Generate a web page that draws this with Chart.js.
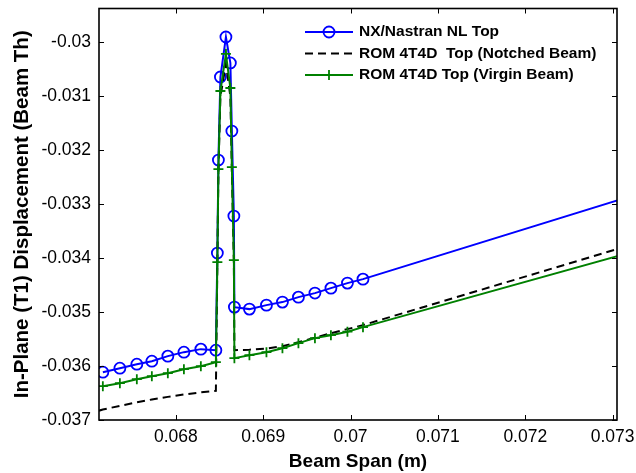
<!DOCTYPE html>
<html>
<head>
<meta charset="utf-8">
<title>In-plane displacement along beam span</title>
<script src="https://cdn.jsdelivr.net/npm/chart.js@4.4.1/dist/chart.umd.min.js"></script>
<style>
  html, body { margin: 0; padding: 0; background: #fff; }
  canvas { display: block; }
</style>
</head>
<body>
<canvas id="dispChart" width="636" height="473"></canvas>
<script>
// beam span positions of the FE nodes (m)
const spanNodes = [0.067164, 0.067359, 0.067553, 0.067725, 0.067908, 0.068092, 0.068286, 0.068458,
  0.068475, 0.068487, 0.068510, 0.068573, 0.068624, 0.068641, 0.068664, 0.068670,
  0.068842, 0.069037, 0.069220, 0.069403, 0.069592, 0.069775, 0.069964, 0.070142];

// NX/Nastran nonlinear, top fibre
const nastranTop = [-0.036113, -0.036039, -0.035965, -0.035909, -0.035816, -0.035742, -0.035686, -0.035705,
  -0.033905, -0.032180, -0.030640, -0.029898, -0.030380, -0.031642, -0.033219, -0.034907,
  -0.034944, -0.034870, -0.034814, -0.034722, -0.034647, -0.034555, -0.034462, -0.034388];

// ROM 4T4D, virgin beam
const romVirginTop = [-0.036373, -0.036317, -0.036243, -0.036187, -0.036132, -0.036058, -0.036002, -0.035928,
  -0.034072, -0.032347, -0.030900, -0.030213, -0.030844, -0.032310, -0.034035, -0.035853,
  -0.035798, -0.035742, -0.035668, -0.035575, -0.035482, -0.035427, -0.035362, -0.035278];

// ROM 4T4D, notched beam (no markers, starts at the left edge)
const notchedSpan = [0.06712].concat(spanNodes);
const romNotchedTop = [-0.036827,
  -0.036805, -0.036738, -0.036673, -0.036620, -0.036571, -0.036527, -0.036488, -0.036460,
  -0.034100, -0.032400, -0.031000, -0.030400, -0.031000, -0.032400, -0.034100, -0.035705,
  -0.035696, -0.035677, -0.035631, -0.035557, -0.035473, -0.035390, -0.035315, -0.035241];

// next node past the plotted span (cut off by the axes)
const farNode = 0.0735;
const farNastran = -0.032703;
const farVirgin = -0.033759;
const farNotched = -0.033614;

const xTicks = [0.068, 0.069, 0.070, 0.071, 0.072, 0.073];
const xTickLabels = ['0.068', '0.069', '0.07', '0.071', '0.072', '0.073'];
const yTicks = [-0.037, -0.036, -0.035, -0.034, -0.033, -0.032, -0.031, -0.030];
const yTickLabels = ['-0.037', '-0.036', '-0.035', '-0.034', '-0.033', '-0.032', '-0.031', '-0.03'];

const seriesNames = ['NX/Nastran NL Top', 'ROM 4T4D  Top (Notched Beam)', 'ROM 4T4D Top (Virgin Beam)'];

const BLUE = '#0000ff';
const GREEN = '#008000';
const FONT = '"Liberation Sans", Arial, Helvetica, sans-serif';

function toPoints(xs, ys, xEnd, yEnd) {
  const pts = xs.map((x, i) => ({x: x, y: ys[i]}));
  pts.push({x: xEnd, y: yEnd});
  return pts;
}

// box, inward ticks on all four sides and the legend
const axesBox = {
  id: 'axesBox',
  afterDatasetsDraw(chart) {
    const {ctx, chartArea: a, scales: {x, y}} = chart;
    ctx.save();
    ctx.strokeStyle = '#000';
    ctx.lineWidth = 1;
    ctx.beginPath();
    xTicks.forEach(v => {
      const px = Math.round(x.getPixelForValue(v)) + 0.5;
      ctx.moveTo(px, a.bottom); ctx.lineTo(px, a.bottom - 5);
      ctx.moveTo(px, a.top); ctx.lineTo(px, a.top + 5);
    });
    yTicks.forEach(v => {
      const py = Math.round(y.getPixelForValue(v)) + 0.5;
      ctx.moveTo(a.left, py); ctx.lineTo(a.left + 5, py);
      ctx.moveTo(a.right, py); ctx.lineTo(a.right - 5, py);
    });
    ctx.stroke();
    ctx.lineWidth = 1.6;
    ctx.strokeRect(a.left, a.top, a.right - a.left, a.bottom - a.top);

    // legend
    const x0 = a.left + 206, x1 = x0 + 48, xm = (x0 + x1) / 2;
    ctx.font = 'bold 15.5px ' + FONT;
    ctx.textBaseline = 'middle';
    ctx.textAlign = 'left';
    ctx.fillStyle = '#000';
    chart.data.datasets.forEach((ds, i) => {
      const ly = a.top + 23.5 + i * 21.5;
      ctx.save();
      ctx.strokeStyle = ds.borderColor;
      ctx.lineWidth = ds.borderWidth;
      ctx.setLineDash(ds.borderDash || []);
      ctx.beginPath(); ctx.moveTo(x0, ly); ctx.lineTo(x1, ly); ctx.stroke();
      ctx.setLineDash([]);
      ctx.lineWidth = ds.pointBorderWidth || 1;
      if (ds.pointStyle === 'circle' && ds.pointRadius) {
        ctx.beginPath(); ctx.arc(xm, ly, ds.pointRadius, 0, Math.PI * 2); ctx.stroke();
      } else if (ds.pointStyle === 'cross' && ds.pointRadius) {
        const r = ds.pointRadius;
        ctx.beginPath();
        ctx.moveTo(xm - r, ly); ctx.lineTo(xm + r, ly);
        ctx.moveTo(xm, ly - r); ctx.lineTo(xm, ly + r);
        ctx.stroke();
      }
      ctx.restore();
      ctx.fillText(ds.label, x1 + 6, ly);
    });
    ctx.restore();
  }
};

new Chart(document.getElementById('dispChart'), {
  type: 'line',
  data: {
    datasets: [
      {
        label: seriesNames[0],
        data: toPoints(spanNodes, nastranTop, farNode, farNastran),
        borderColor: BLUE,
        borderWidth: 2,
        pointStyle: 'circle',
        pointRadius: 5.5,
        pointBorderWidth: 1.8,
        pointBorderColor: BLUE,
        pointBackgroundColor: 'rgba(0,0,0,0)',
        order: 2
      },
      {
        label: seriesNames[1],
        data: toPoints(notchedSpan, romNotchedTop, farNode, farNotched),
        borderColor: '#000',
        borderWidth: 2,
        borderDash: [8, 5],
        pointRadius: 0,
        order: 1
      },
      {
        label: seriesNames[2],
        data: toPoints(spanNodes, romVirginTop, farNode, farVirgin),
        borderColor: GREEN,
        borderWidth: 2,
        pointStyle: 'cross',
        pointRadius: 5,
        pointBorderWidth: 1.8,
        pointBorderColor: GREEN,
        order: 0
      }
    ]
  },
  options: {
    responsive: false,
    animation: false,
    devicePixelRatio: 1,
    layout: { padding: { top: 8.5, right: 19, left: 0, bottom: 0 } },
    elements: { line: { tension: 0 } },
    plugins: {
      legend: { display: false },
      tooltip: { enabled: false }
    },
    scales: {
      x: {
        type: 'linear',
        min: 0.06712,
        max: 0.07305,
        afterBuildTicks: s => { s.ticks = xTicks.map(v => ({value: v})); },
        afterFit: s => { s.height = 53; s.paddingLeft = 0; s.paddingRight = 0; },
        grid: { display: false, drawTicks: false },
        border: { display: false },
        ticks: {
          callback: (v, i) => xTickLabels[i],
          color: '#000',
          padding: 7,
          maxRotation: 0,
          autoSkip: false,
          font: { family: FONT, size: 17.5 }
        },
        title: {
          display: true,
          text: 'Beam Span (m)',
          color: '#000',
          padding: { top: 2, bottom: 0 },
          font: { family: FONT, size: 19, weight: 'bold' }
        }
      },
      y: {
        type: 'linear',
        min: -0.037,
        max: -0.02937,
        afterBuildTicks: s => { s.ticks = yTicks.map(v => ({value: v})); },
        afterFit: s => { s.width = 99; s.paddingTop = 0; s.paddingBottom = 0; },
        grid: { display: false, drawTicks: false },
        border: { display: false },
        ticks: {
          callback: (v, i) => yTickLabels[i],
          color: '#000',
          padding: 8,
          autoSkip: false,
          font: { family: FONT, size: 17.5 }
        },
        title: {
          display: true,
          text: 'In-Plane (T1) Displacement (Beam Th)',
          color: '#000',
          padding: { top: 10, bottom: 0 },
          font: { family: FONT, size: 20.5, weight: 'bold' }
        }
      }
    }
  },
  plugins: [axesBox]
});
</script>
</body>
</html>
